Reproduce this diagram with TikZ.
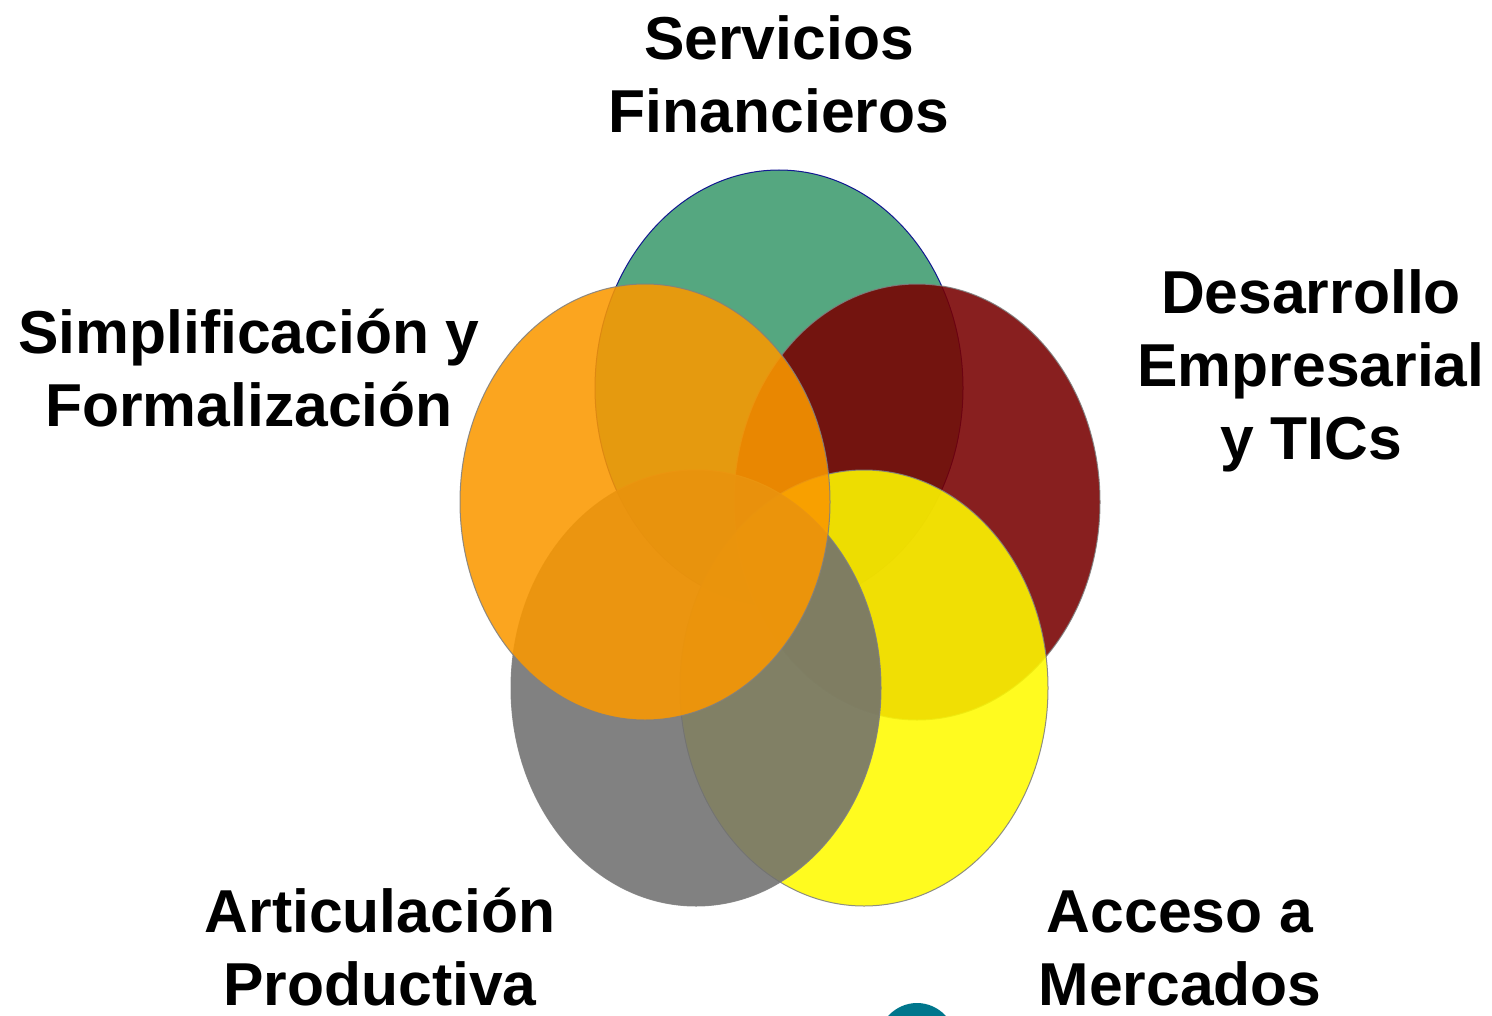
\documentclass[tikz,border=0pt]{standalone}
\usepackage{fontspec}
\setmainfont{Liberation Sans}
\usetikzlibrary{positioning}
\definecolor{areaGreen}{RGB}{62, 155, 110}
\definecolor{areaRed}{RGB}{120, 0, 0}
\definecolor{areaYellow}{RGB}{255, 250, 0}
\definecolor{areaGray}{RGB}{112, 112, 112}
\definecolor{areaOrange}{RGB}{250, 152, 0}
\definecolor{logoTeal}{RGB}{0, 118, 140}

\begin{document}
\begin{tikzpicture}[x=0.5pt, y=-0.5pt,
    blob/.style={draw=gray, line width=0.5pt, opacity=0.88},
    areatext/.style={font=\bfseries\fontsize{30.3}{36.5}\selectfont, align=center, anchor=base}]
    \useasboundingbox (0,0) rectangle (1492,1016);
    \clip (0,0) rectangle (1492,1016);

    % centres of the five areas
    \coordinate (fin) at (779,388);
    \coordinate (emp) at (917,502);
    \coordinate (mer) at (864,688);
    \coordinate (pro) at (696,688);
    \coordinate (sim) at (645,502);

    \draw[blob, fill=areaGreen, draw=blue!55!black] (fin) ellipse [x radius=184, y radius=218];
    \draw[blob, fill=areaRed] (emp) ellipse [x radius=183, y radius=218];
    \draw[blob, fill=areaYellow] (mer) ellipse [x radius=184, y radius=218];
    \draw[blob, fill=areaGray] (pro) ellipse [x radius=185, y radius=218];
    \draw[blob, fill=areaOrange] (sim) ellipse [x radius=185, y radius=218];

    % bit of a logo cut off at the bottom
    \fill[logoTeal] (917,1045) ellipse [x radius=40, y radius=42];

    % labels, placed at the baseline of their last line
    \node[areatext] (finLbl) at (779,133) {Servicios\\Financieros};
    \node[areatext] (empLbl) at (1311,459) {Desarrollo\\Empresarial\\y TICs};
    \node[areatext] (simLbl) at (249,426) {Simplificación y\\Formalización};
    \node[areatext] (proLbl) at (380,1005) {Articulación\\Productiva};
    \node[areatext] (merLbl) at (1180,1005) {Acceso a\\Mercados};
\end{tikzpicture}
\end{document}
